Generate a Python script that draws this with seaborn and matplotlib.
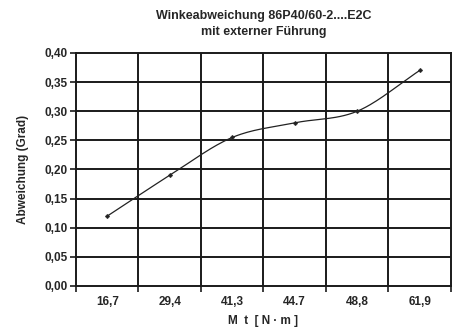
import numpy as np
import pandas as pd
import matplotlib
matplotlib.use("Agg")
import matplotlib.pyplot as plt
import seaborn as sns

# Data
torque_labels = ["16,7", "29,4", "41,3", "44.7", "48,8", "61,9"]
deviation = [0.12, 0.19, 0.255, 0.28, 0.30, 0.37]
y_ticks = [0.00, 0.05, 0.10, 0.15, 0.20, 0.25, 0.30, 0.35, 0.40]

sns.set_style("white")
plt.rcParams['font.family'] = ['Liberation Sans Narrow', 'Liberation Sans', 'DejaVu Sans']
plt.rcParams['font.weight'] = 'bold'

df = pd.DataFrame({"pos": np.arange(len(torque_labels)), "dev": deviation})


def catmull_rom(x, y, n=30):
    # smoothed line like a spreadsheet "smooth line" chart
    x = np.asarray(x, float)
    y = np.asarray(y, float)
    px = np.concatenate([[2 * x[0] - x[1]], x, [2 * x[-1] - x[-2]]])
    py = np.concatenate([[2 * y[0] - y[1]], y, [2 * y[-1] - y[-2]]])
    xs, ys = [], []
    t = np.linspace(0, 1, n)
    for i in range(1, len(px) - 2):
        for p, out in ((px, xs), (py, ys)):
            p0, p1, p2, p3 = p[i - 1], p[i], p[i + 1], p[i + 2]
            out.append(0.5 * (2 * p1 + (-p0 + p2) * t
                              + (2 * p0 - 5 * p1 + 4 * p2 - p3) * t ** 2
                              + (-p0 + 3 * p1 - 3 * p2 + p3) * t ** 3))
    return np.concatenate(xs), np.concatenate(ys)


sx, sy = catmull_rom(df["pos"], df["dev"])
smooth = pd.DataFrame({"x": sx, "y": sy})

fig = plt.figure(figsize=(4.57, 3.29), dpi=100)
ax = fig.add_axes([0.1663, 0.1307, 0.8205, 0.7083])

sns.lineplot(data=smooth, x="x", y="y", ax=ax, color="#222222", lw=0.9,
             sort=False, estimator=None)
sns.scatterplot(data=df, x="pos", y="dev", ax=ax, marker="D", s=6,
                color="#222222", edgecolor="#222222", zorder=5)

ax.set_xlim(-0.5, len(torque_labels) - 0.5)
ax.set_ylim(0, 0.4)

# vertical grid lines at category boundaries
bounds = np.arange(len(torque_labels) + 1) - 0.5
for b in bounds[1:-1]:
    ax.axvline(b, color="#1a1a1a", lw=1.4, zorder=1)
for v in y_ticks[1:-1]:
    ax.axhline(v, color="#1a1a1a", lw=1.4, zorder=1)

ax.set_xticks(bounds, minor=True)
ax.set_xticks(np.arange(len(torque_labels)))
ax.set_xticklabels(torque_labels)
ax.tick_params(axis="x", which="major", length=0, pad=7, labelsize=8.5)
ax.tick_params(axis="x", which="minor", length=4, width=1.2, direction="out",
               color="#1a1a1a", bottom=True)
ax.set_yticks(y_ticks)
ax.set_yticklabels([f"{v:.2f}".replace(".", ",") for v in y_ticks])
ax.tick_params(axis="y", length=4, width=1.2, direction="out", left=True,
               color="#1a1a1a", labelsize=8.5, pad=2)

for s in ax.spines.values():
    s.set_color("#1a1a1a")
    s.set_linewidth(1.4)

ax.set_xlabel("M  t  [ N · m ]", fontsize=8.5, fontweight="bold", labelpad=5)
ax.set_ylabel("Abweichung (Grad)", fontsize=8.5, fontweight="bold", labelpad=11)
ax.set_title("Winkeabweichung 86P40/60-2....E2C\nmit externer Führung",
             fontsize=9, fontweight="bold", pad=13, linespacing=1.45)

fig.savefig("out.png", dpi=100)
